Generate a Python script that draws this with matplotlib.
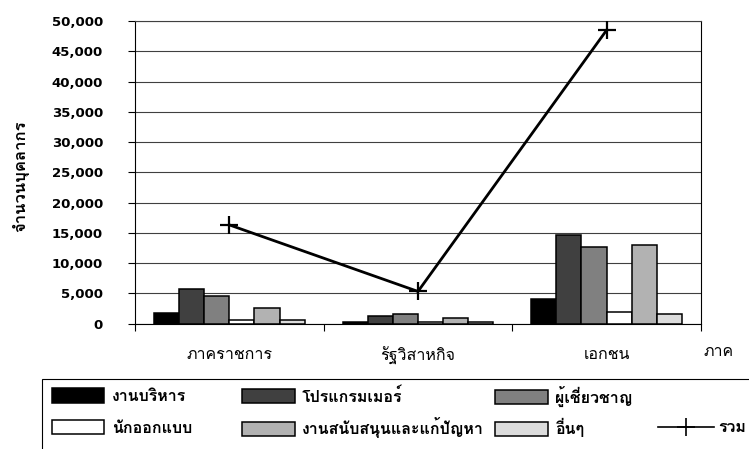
import numpy as np
import matplotlib
matplotlib.use("Agg")
import matplotlib.pyplot as plt
from matplotlib.lines import Line2D
from matplotlib.patches import Patch, Rectangle

THAI = ["Loma", "DejaVu Sans"]

sectors = ["ภาคราชการ", "รัฐวิสาหกิจ", "เอกชน"]
series_names = ["งานบริหาร", "โปรแกรมเมอร์", "ผู้เชี่ยวชาญ",
                "นักออกแบบ", "งานสนับสนุนและแก้ปัญหา", "อื่นๆ"]
admin = [1700, 200, 4100]
programmer = [5700, 1200, 14700]
expert = [4500, 1600, 12600]
designer = [500, 200, 1900]
support = [2500, 900, 12900]
other = [500, 200, 1600]
total = [16300, 5300, 48500]
total_name = "รวม"
y_ticks = [0, 5000, 10000, 15000, 20000, 25000, 30000, 35000, 40000, 45000, 50000]

series = [admin, programmer, expert, designer, support, other]
colors = ["#000000", "#404040", "#808080", "#ffffff", "#b2b2b2", "#dcdcdc"]

fig = plt.figure(figsize=(7.49, 4.49), dpi=100)
ax = fig.add_axes([0.1802, 0.2795, 0.7557, 0.6737])

x = np.arange(len(sectors))
width = 1 / 7.5  # gap width 150%
for i, (vals, c) in enumerate(zip(series, colors)):
    ax.bar(x + (i - 2.5) * width, vals, width, color=c,
           edgecolor="black", linewidth=1.1, zorder=3)

ax.plot(x, total, color="black", linewidth=2, marker="+",
        markersize=13, markeredgewidth=1.6, zorder=4)

ax.set_xlim(-0.5, 2.5)
ax.set_ylim(0, 50000)
ax.set_yticks(y_ticks)
ax.set_yticklabels([f"{v:,}" for v in y_ticks], fontsize=9.5,
                   fontweight="bold", family="DejaVu Sans")
ax.tick_params(axis="y", direction="out", length=5, width=0.8, pad=18)
ax.grid(axis="y", color="#404040", linewidth=0.8, zorder=0)

ax.set_xticks([-0.5, 0.5, 1.5, 2.5])
ax.set_xticklabels([])
ax.tick_params(axis="x", direction="out", length=5, width=0.8)
ax.set_xticks(x, minor=True)
ax.set_xticklabels(sectors, minor=True, fontsize=11.5, family=THAI)
ax.tick_params(axis="x", which="minor", length=0, pad=17)

for side in ["left", "right", "bottom"]:
    ax.spines[side].set_color("black")
    ax.spines[side].set_linewidth(0.8)
ax.spines["top"].set_color("#404040")
ax.spines["top"].set_linewidth(0.8)

fig.text(0.027, 0.608, "จำนวนบุคลากร", rotation=90, ha="center", va="center",
         fontsize=12, fontweight="bold", family=THAI)
fig.text(0.939, 0.215, "ภาค", ha="left", va="center", fontsize=11.5, family=THAI)

# legend: frame runs off the figure at the right and bottom
fig.add_artist(Rectangle((0.0557, -0.2), 1.2, 0.3552, transform=fig.transFigure,
                         fill=False, edgecolor="black", linewidth=0.8))

legend_font = {"family": THAI, "weight": "bold", "size": 11.5}
handles = [Patch(facecolor=c, edgecolor="black", linewidth=1.1) for c in colors]
col_x = [0.0690, 0.3231, 0.6609]
row_y = [0.118, 0.047]
for k in range(6):
    row, col = divmod(k, 3)
    fig.legend([handles[k]], [series_names[k]], loc="center left",
               bbox_to_anchor=(col_x[col], row_y[row]), frameon=False,
               borderpad=0, borderaxespad=0, handlelength=3.3, handleheight=1.0,
               handletextpad=0.45, prop=legend_font)
tot_handle = Line2D([], [], color="black", linewidth=1.2, marker="+",
                    markersize=13, markeredgewidth=1.2)
fig.legend([tot_handle], [total_name], loc="center left",
           bbox_to_anchor=(0.8785, row_y[1]), frameon=False,
           borderpad=0, borderaxespad=0, handlelength=3.5, handletextpad=0.3,
           prop=legend_font)

fig.savefig("out.png", dpi=100)
